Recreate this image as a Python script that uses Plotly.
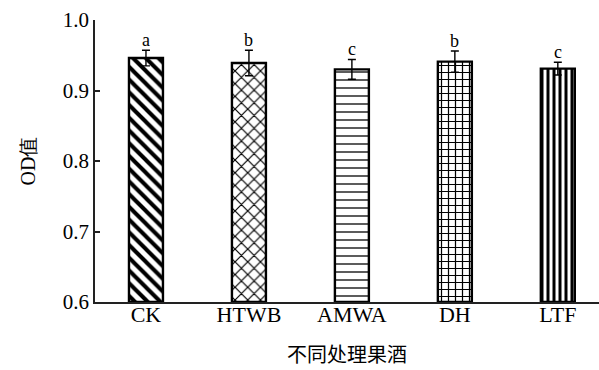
import plotly.graph_objects as go

# Treatments and measured OD values
categories = ["CK", "HTWB", "AMWA", "DH", "LTF"]
od_values = [0.946, 0.939, 0.930, 0.941, 0.931]
od_errors = [0.011, 0.018, 0.014, 0.015, 0.009]
sig_letters = ["a", "b", "c", "b", "c"]
patterns = ["\\", "x", "-", "+", "|"]
pattern_sizes = [9, 9, 8, 7, 6]
pattern_solidity = [0.45, 0.25, 0.16, 0.32, 0.5]

serif = "Liberation Serif, Times New Roman, serif"
cjk = "Noto Sans CJK SC, sans-serif"

fig = go.Figure()
fig.add_trace(go.Bar(
    x=categories,
    y=[v - 0.6 for v in od_values],
    base=0.6,
    width=0.33,
    marker=dict(
        color="white",
        line=dict(color="black", width=2.4),
        pattern=dict(shape=patterns, fgcolor="black", bgcolor="white",
                     fgopacity=1, size=pattern_sizes,
                     solidity=pattern_solidity),
    ),
    error_y=dict(type="data", array=od_errors, visible=True,
                 color="black", thickness=1.4, width=4),
    showlegend=False,
))

for c, v, e, s in zip(categories, od_values, od_errors, sig_letters):
    fig.add_annotation(x=c, y=v + e, text=s, showarrow=False,
                       yanchor="bottom", yshift=-2,
                       font=dict(family=serif, size=18, color="black"))

fig.update_layout(
    width=599, height=370,
    margin=dict(l=95, r=0, t=20, b=68),
    plot_bgcolor="white", paper_bgcolor="white",
    xaxis=dict(
        range=[-0.495, 4.40],
        showline=True, linecolor="#222", linewidth=1.5,
        ticks="", showgrid=False,
        ticklabelstandoff=-8,
        tickfont=dict(family=serif, size=22, color="black"),
        title=dict(text="不同处理果酒", standoff=22,
                   font=dict(family=cjk, size=20, color="black")),
    ),
    yaxis=dict(
        range=[0.6, 1.0], dtick=0.1, tickformat=".1f",
        showline=True, linecolor="#222", linewidth=1.5,
        ticks="inside", ticklen=5, tickwidth=1.5, tickcolor="#222",
        showgrid=False, zeroline=False,
        tickfont=dict(family=serif, size=21, color="black"),
        title=dict(text="OD值", standoff=22,
                   font=dict(family=serif, size=20, color="black")),
    ),
)

fig.write_html("out.html")
